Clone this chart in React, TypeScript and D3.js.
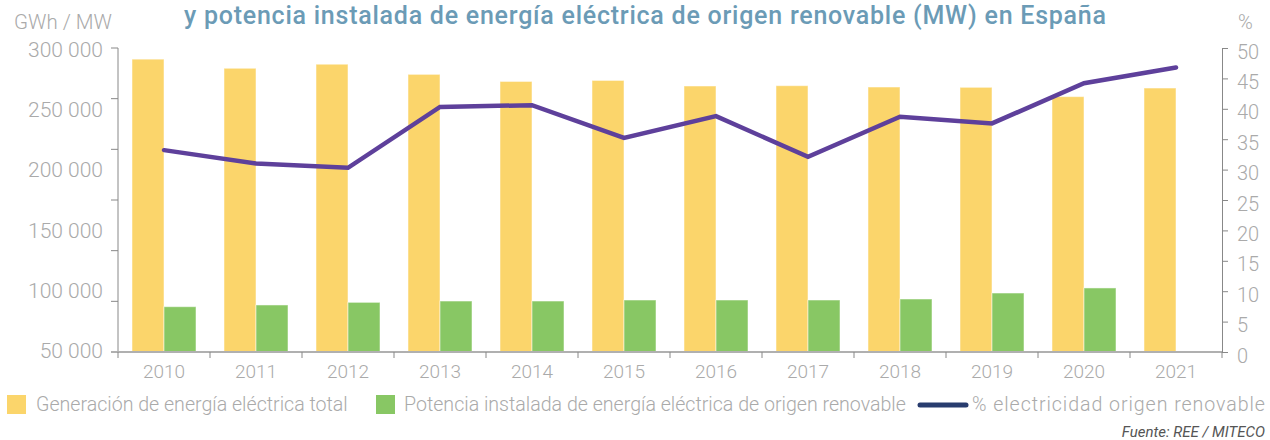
import React, { useEffect, useRef } from 'react';
import * as d3 from 'd3';

const years = ['2010', '2011', '2012', '2013', '2014', '2015', '2016', '2017', '2018', '2019', '2020', '2021'];
// GWh
const generacionTotal = [289000, 280000, 284000, 274000, 267000, 268000, 262500, 262800, 261500, 261200, 252000, 260500];
// MW
const potenciaRenovable = [44700, 46400, 49000, 50300, 50300, 51300, 51300, 51300, 52300, 58200, 63200, null];
// %
const pctRenovable = [33.2, 31.0, 30.3, 40.3, 40.6, 35.2, 38.8, 32.1, 38.7, 37.6, 44.2, 46.8];

const leftTicks = [0, 50000, 100000, 150000, 200000, 250000, 300000];
const leftTickLabels = ['300 000', '250 000', '200 000', '150 000', '100 000', '50 000'];
const rightTicks = [0, 5, 10, 15, 20, 25, 30, 35, 40, 45, 50];

const legendItems = [
  'Generación de energía eléctrica total',
  'Potencia instalada de energía eléctrica de origen renovable',
  '% electricidad origen renovable',
];

const title = 'y potencia instalada de energía eléctrica de origen renovable (MW) en España';

const FONT = "Roboto, 'Noto Sans', sans-serif";
const GREY = '#aaaaaa';
const YELLOW = '#fbd56b';
const GREEN = '#88c764';
const PURPLE = '#5e409b';
const NAVY = '#283c6e';

const App = () => {
  const ref = useRef<SVGSVGElement>(null);

  useEffect(() => {
    const svg = d3.select(ref.current);
    svg.selectAll('*').remove();

    const width = 1270;
    const height = 440;
    const margin = { top: 48, right: 48, bottom: 88, left: 118 };

    const x = d3.scaleBand().domain(years).range([margin.left, width - margin.right]);
    const xSub = d3.scaleBand().domain(['gen', 'pot']).range([14, x.bandwidth() - 14]);
    const yL = d3.scaleLinear().domain([0, 300000]).range([height - margin.bottom, margin.top]);
    const yR = d3.scaleLinear().domain([0, 50]).range([height - margin.bottom, margin.top]);
    // the labels on the left axis are spread evenly, not on the tick marks
    const yLabel = d3.scalePoint().domain(leftTickLabels).range([50, 351]);

    // title (second line visible)
    svg.append('text')
      .attr('x', 645)
      .attr('y', 24)
      .attr('text-anchor', 'middle')
      .attr('textLength', 922)
      .attr('lengthAdjust', 'spacing')
      .style('font-family', FONT)
      .style('font-size', '25px')
      .style('font-weight', 500)
      .attr('fill', '#6b9bb6')
      .text(title);

    svg.append('text')
      .attr('x', 14)
      .attr('y', 21.5)
      .attr('dominant-baseline', 'central')
      .style('font-family', FONT)
      .style('font-size', '20.5px')
      .style('font-weight', 300)
      .attr('fill', GREY)
      .text('GWh / MW');

    svg.append('text')
      .attr('x', 1238)
      .attr('y', 21.5)
      .attr('dominant-baseline', 'central')
      .style('font-family', FONT)
      .style('font-size', '20px')
      .style('font-weight', 300)
      .attr('fill', GREY)
      .text('%');

    // bars
    const g = svg.append('g');
    years.forEach((yr, i) => {
      g.append('rect')
        .attr('x', x(yr)! + xSub('gen')!)
        .attr('y', yL(generacionTotal[i]))
        .attr('width', xSub.bandwidth())
        .attr('height', yL(0) - yL(generacionTotal[i]))
        .attr('fill', YELLOW)
        .attr('stroke', '#fff')
        .attr('stroke-opacity', 0.5);
      const p = potenciaRenovable[i];
      if (p != null) {
        g.append('rect')
          .attr('x', x(yr)! + xSub('pot')!)
          .attr('y', yL(p))
          .attr('width', xSub.bandwidth())
          .attr('height', yL(0) - yL(p))
          .attr('fill', GREEN)
          .attr('stroke', '#fff')
          .attr('stroke-opacity', 0.5);
      }
    });

    // left axis
    const left = svg.append('g').attr('transform', `translate(${margin.left},0)`);
    left.append('line')
      .attr('y1', yL(300000)).attr('y2', yL(0))
      .attr('stroke', '#888');
    left.selectAll('line.tick')
      .data(leftTicks)
      .join('line')
      .attr('class', 'tick')
      .attr('x1', -7).attr('x2', 0)
      .attr('y1', d => yL(d)).attr('y2', d => yL(d))
      .attr('stroke', '#888');
    left.selectAll('text')
      .data(leftTickLabels)
      .join('text')
      .attr('x', -15)
      .attr('y', d => yLabel(d)!)
      .attr('text-anchor', 'end')
      .attr('dominant-baseline', 'central')
      .style('font-family', FONT)
      .style('font-size', '21px')
      .style('font-weight', 300)
      .attr('fill', GREY)
      .text(d => d);

    // right axis
    svg.append('g')
      .attr('transform', `translate(${width - margin.right},0)`)
      .call(d3.axisRight(yR).tickValues(rightTicks).tickSize(6).tickPadding(9))
      .call(a => a.select('.domain').attr('stroke', '#888'))
      .call(a => a.selectAll('.tick line').attr('stroke', '#888'))
      .call(a => a.selectAll('.tick text')
        .attr('dy', '0.5em')
        .style('font-family', FONT)
        .style('font-size', '20px')
        .style('font-weight', 300)
        .attr('fill', GREY));

    // bottom axis
    const bottom = svg.append('g').attr('transform', `translate(0,${height - margin.bottom})`);
    bottom.append('line')
      .attr('x1', margin.left - 7).attr('x2', width - margin.right)
      .attr('stroke', '#b0b0b0')
      .attr('stroke-width', 2);
    bottom.selectAll('line.tick')
      .data([...years.map(d => x(d)!), width - margin.right])
      .join('line')
      .attr('class', 'tick')
      .attr('x1', d => d).attr('x2', d => d)
      .attr('y1', 0).attr('y2', 6)
      .attr('stroke', '#888');
    bottom.selectAll('text')
      .data(years)
      .join('text')
      .attr('x', d => x(d)! + x.bandwidth() / 2)
      .attr('y', 19)
      .attr('text-anchor', 'middle')
      .attr('dominant-baseline', 'central')
      .style('font-family', FONT)
      .style('font-size', '19px')
      .style('font-weight', 300)
      .attr('fill', GREY)
      .text(d => d);

    // percent line
    const line = d3.line<number>()
      .x((_, i) => x(years[i])! + x.bandwidth() / 2)
      .y(d => yR(d));
    svg.append('path')
      .datum(pctRenovable)
      .attr('fill', 'none')
      .attr('stroke', PURPLE)
      .attr('stroke-width', 4.5)
      .attr('stroke-linecap', 'round')
      .attr('d', line);

    // legend
    const leg = svg.append('g').style('font-family', FONT).style('font-size', '19.6px').style('font-weight', 300);
    leg.append('rect').attr('x', 7).attr('y', 395).attr('width', 19).attr('height', 19).attr('fill', YELLOW);
    leg.append('text').attr('x', 36).attr('y', 404.5).attr('dominant-baseline', 'central').attr('fill', GREY).text(legendItems[0]);
    leg.append('rect').attr('x', 376).attr('y', 395).attr('width', 19).attr('height', 19).attr('fill', GREEN);
    leg.append('text').attr('x', 404).attr('y', 404.5).attr('dominant-baseline', 'central').attr('fill', GREY).text(legendItems[1]);
    leg.append('line').attr('x1', 920).attr('x2', 966).attr('y1', 405).attr('y2', 405)
      .attr('stroke', NAVY).attr('stroke-width', 5).attr('stroke-linecap', 'round');
    leg.append('text').attr('x', 972).attr('y', 404.5).attr('dominant-baseline', 'central')
      .attr('textLength', 293).attr('lengthAdjust', 'spacing')
      .attr('fill', GREY).text(legendItems[2]);

    svg.append('text')
      .attr('x', 1265)
      .attr('y', 437)
      .attr('text-anchor', 'end')
      .style('font-family', FONT)
      .style('font-size', '15px')
      .style('font-style', 'italic')
      .attr('fill', '#555')
      .text('Fuente: REE / MITECO');
  }, []);

  return (
    <svg
      ref={ref}
      width={1270}
      height={440}
      style={{ position: 'absolute', left: 0, top: 0, display: 'block', background: '#fff' }}
    />
  );
};

export default App;
